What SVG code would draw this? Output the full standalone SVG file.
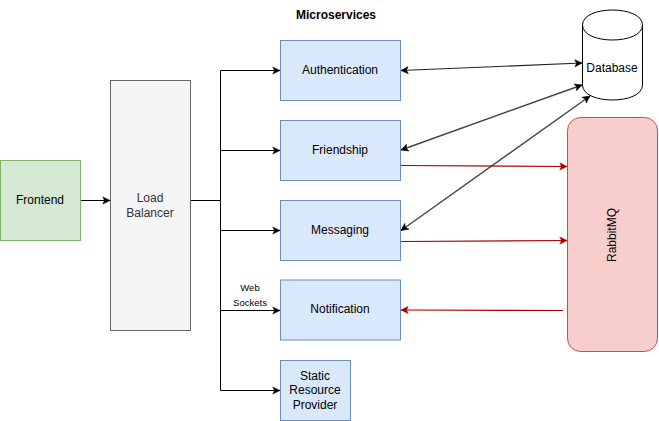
<svg xmlns="http://www.w3.org/2000/svg" width="659" height="421" viewBox="0 0 659 421">
<style>
text{font-family:"Liberation Sans",Arial,sans-serif;font-size:12px;text-anchor:middle;fill:#000}
.b{fill:#dae8fc;stroke:#6c8ebf}
.c{fill:none;stroke:#000}
.a{fill:none;stroke:#222;stroke-width:1.2}
.g{fill:none;stroke:#444;stroke-width:1.4}
.r{fill:none;stroke:#a50000;stroke-width:1.1}
</style>
<defs>
<marker id="k" markerUnits="userSpaceOnUse" markerWidth="9" markerHeight="9" refX="9" refY="5" orient="auto-start-reverse" viewBox="0 0 10 10"><path d="M1 1L9 5L1 9L3 5Z" fill="#000" stroke="#000" stroke-width=".6"/></marker>
<marker id="d" markerUnits="userSpaceOnUse" markerWidth="9" markerHeight="9" refX="9" refY="5" orient="auto-start-reverse" viewBox="0 0 10 10"><path d="M1 1L9 5L1 9L3 5Z" fill="#a50000" stroke="#a50000" stroke-width=".6"/></marker>
</defs>
<rect width="659" height="421" fill="#fff"/>
<g id="connectors">
<path class="c" marker-end="url(#k)" d="M80.500 200.500H110"/>
<path class="c" d="M191 200.500H220.500"/>
<path class="c" marker-end="url(#k)" d="M220.500 200.500V70.500H280"/>
<path class="c" marker-end="url(#k)" d="M220.500 150.500H280"/>
<path class="c" marker-end="url(#k)" d="M220.500 230.500H280"/>
<path class="c" marker-end="url(#k)" d="M220.500 200.500V310.500H280"/>
<path class="c" marker-end="url(#k)" d="M220.500 310.500V390.500H280"/>
<path class="a" marker-start="url(#k)" marker-end="url(#k)" d="M401 70.500L582 63"/>
<path class="g" marker-start="url(#k)" marker-end="url(#k)" d="M401 150L582 85"/>
<path class="g" marker-start="url(#k)" marker-end="url(#k)" d="M401 230.500L590 96"/>
<path class="r" marker-end="url(#d)" d="M401 165.500L567 166.500"/>
<path class="r" marker-end="url(#d)" d="M401 241.500L567 240.500"/>
<path class="r" marker-end="url(#d)" d="M563 310.500L401 310"/>
</g>
<g id="frontend"><rect x="0.500" y="160.500" width="80" height="80" fill="#d5e8d4" stroke="#82b366"/><text x="40" y="204">Frontend</text></g>
<g id="load-balancer"><rect x="110.500" y="80.500" width="80" height="250" fill="#f5f5f5" stroke="#666"/><text x="150" y="202" style="fill:#333">Load</text><text x="150" y="217" style="fill:#333">Balancer</text></g>
<g id="title"><text x="336" y="19" style="font-weight:bold">Microservices</text></g>
<g id="authentication"><rect class="b" x="280.500" y="40.500" width="120" height="60"/><text x="340" y="74">Authentication</text></g>
<g id="friendship"><rect class="b" x="280.500" y="120.500" width="120" height="60"/><text x="340" y="154">Friendship</text></g>
<g id="messaging"><rect class="b" x="280.500" y="200.500" width="120" height="60"/><text x="340" y="234">Messaging</text></g>
<g id="notification"><rect class="b" x="280.500" y="280" width="120" height="60"/><text x="340" y="313">Notification</text></g>
<g id="static"><rect class="b" x="280.500" y="360.500" width="70" height="60"/><text x="315" y="380">Static</text><text x="315" y="394">Resource</text><text x="315" y="409">Provider</text></g>
<g id="web-sockets-label"><text x="250" y="291" style="font-size:9.5px">Web</text><text x="250" y="306" style="font-size:9.5px">Sockets</text></g>
<g id="database"><path d="M582.500 25C582.500 5 642.500 5 642.500 25V85C642.500 105 582.500 105 582.500 85Z" fill="#fff" stroke="#000"/><path d="M582.500 25C582.500 45 642.500 45 642.500 25" fill="none" stroke="#000"/><text x="612" y="72">Database</text></g>
<g id="rabbitmq"><rect x="567.500" y="117.500" width="90" height="234" rx="13" ry="13" fill="#f8cecc" stroke="#b85450"/><text transform="translate(616 235) rotate(-90)">RabbitMQ</text></g>
</svg>
